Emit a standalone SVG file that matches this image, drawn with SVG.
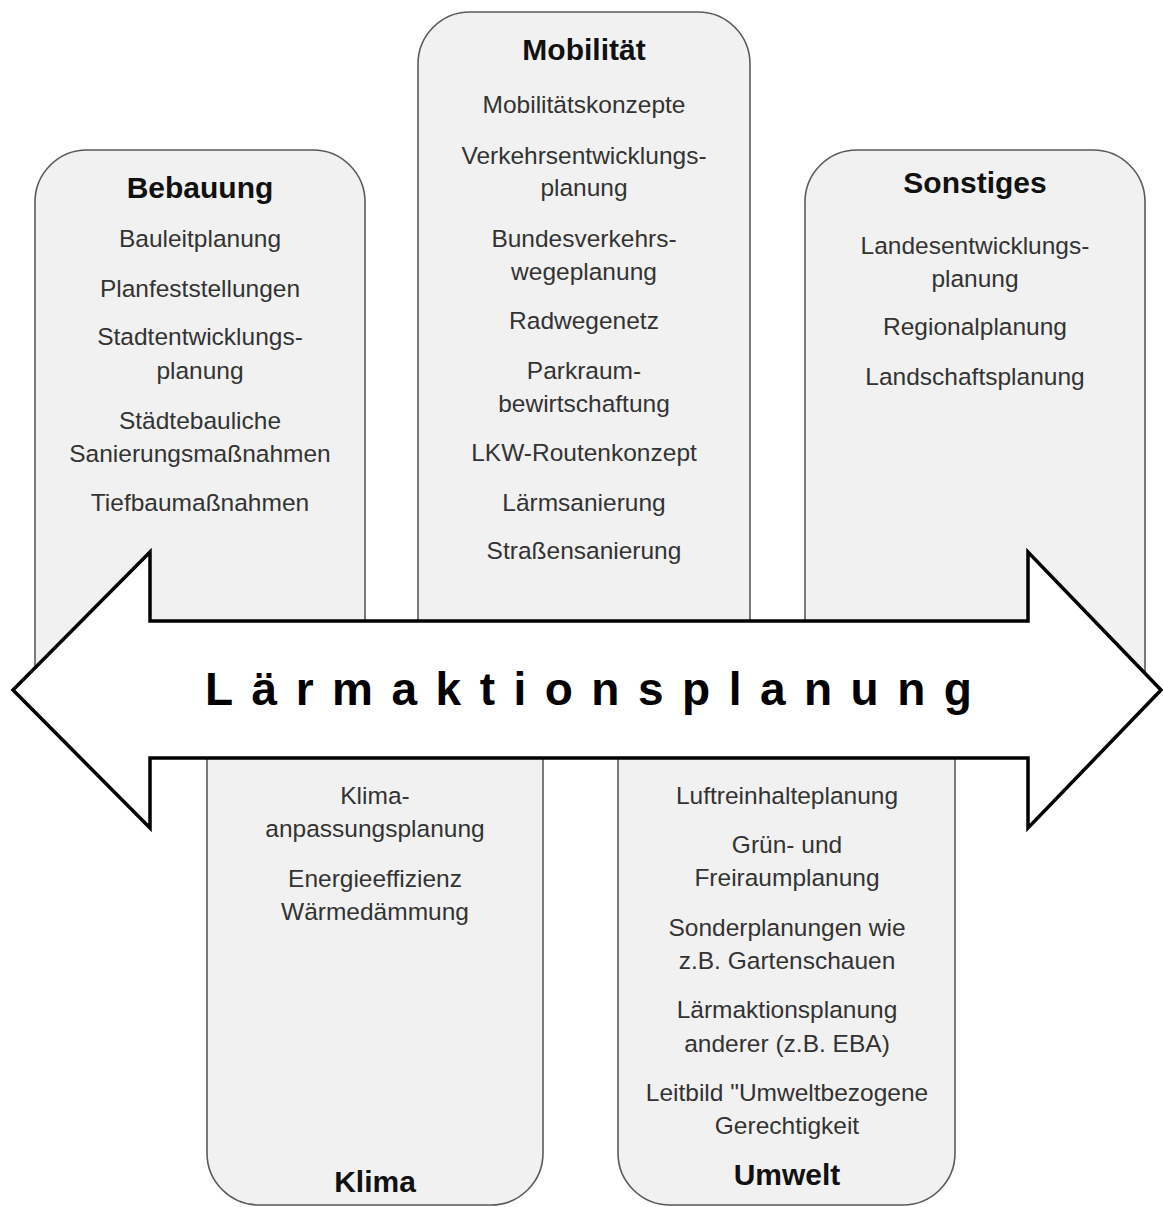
<svg xmlns="http://www.w3.org/2000/svg" width="1163" height="1207" viewBox="0 0 1163 1207">
<style>
.box{fill:#f1f1f1;stroke:#5a5a5a;stroke-width:1.6}
.hd{font-family:"Comic Sans MS","Liberation Sans",sans-serif;font-weight:bold;font-size:30px;fill:#111;text-anchor:middle}
.t{font-family:"Liberation Sans",Arial,sans-serif;font-size:24.5px;fill:#333;text-anchor:middle}
.arrow{fill:#fff;stroke:#000;stroke-width:3.5;stroke-linejoin:miter}
.title{font-family:"Liberation Sans",Arial,sans-serif;font-weight:bold;font-size:46px;letter-spacing:18.5px;fill:#000}
</style>
<rect width="1163" height="1207" fill="#fff"/>
<g id="bebauung">
<path class="box" d="M35,690 V202 A52,52 0 0 1 87,150 H313 A52,52 0 0 1 365,202 V690 Z"/>
<text class="hd" x="200" y="198">Bebauung</text>
<text class="t" x="200" y="247">Bauleitplanung</text>
<text class="t" x="200" y="297">Planfeststellungen</text>
<text class="t" x="200" y="345">Stadtentwicklungs-</text>
<text class="t" x="200" y="379">planung</text>
<text class="t" x="200" y="429">Städtebauliche</text>
<text class="t" x="200" y="462">Sanierungsmaßnahmen</text>
<text class="t" x="200" y="511">Tiefbaumaßnahmen</text>
</g>
<g id="mobilitaet">
<path class="box" d="M418,690 V64 A52,52 0 0 1 470,12 H698 A52,52 0 0 1 750,64 V690 Z"/>
<text class="hd" x="584" y="60">Mobilität</text>
<text class="t" x="584" y="113">Mobilitätskonzepte</text>
<text class="t" x="584" y="164">Verkehrsentwicklungs-</text>
<text class="t" x="584" y="196">planung</text>
<text class="t" x="584" y="247">Bundesverkehrs-</text>
<text class="t" x="584" y="280">wegeplanung</text>
<text class="t" x="584" y="329">Radwegenetz</text>
<text class="t" x="584" y="379">Parkraum-</text>
<text class="t" x="584" y="412">bewirtschaftung</text>
<text class="t" x="584" y="461">LKW-Routenkonzept</text>
<text class="t" x="584" y="511">Lärmsanierung</text>
<text class="t" x="584" y="559">Straßensanierung</text>
</g>
<g id="sonstiges">
<path class="box" d="M805,690 V202 A52,52 0 0 1 857,150 H1093 A52,52 0 0 1 1145,202 V690 Z"/>
<text class="hd" x="975" y="193">Sonstiges</text>
<text class="t" x="975" y="254">Landesentwicklungs-</text>
<text class="t" x="975" y="287">planung</text>
<text class="t" x="975" y="335">Regionalplanung</text>
<text class="t" x="975" y="385">Landschaftsplanung</text>
</g>
<g id="klima">
<path class="box" d="M207,690 V1153 A52,52 0 0 0 259,1205 H491 A52,52 0 0 0 543,1153 V690 Z"/>
<text class="hd" x="375" y="1192">Klima</text>
<text class="t" x="375" y="804">Klima-</text>
<text class="t" x="375" y="837">anpassungsplanung</text>
<text class="t" x="375" y="887">Energieeffizienz</text>
<text class="t" x="375" y="920">Wärmedämmung</text>
</g>
<g id="umwelt">
<path class="box" d="M618,690 V1153 A52,52 0 0 0 670,1205 H903 A52,52 0 0 0 955,1153 V690 Z"/>
<text class="hd" x="787" y="1185">Umwelt</text>
<text class="t" x="787" y="804">Luftreinhalteplanung</text>
<text class="t" x="787" y="853">Grün- und</text>
<text class="t" x="787" y="886">Freiraumplanung</text>
<text class="t" x="787" y="936">Sonderplanungen wie</text>
<text class="t" x="787" y="969">z.B. Gartenschauen</text>
<text class="t" x="787" y="1018">Lärmaktionsplanung</text>
<text class="t" x="787" y="1052">anderer (z.B. EBA)</text>
<text class="t" x="787" y="1101">Leitbild "Umweltbezogene</text>
<text class="t" x="787" y="1134">Gerechtigkeit</text>
</g>
<g id="laermaktionsplanung">
<path class="arrow" d="M13,690 L150,552 L150,621 L1028,621 L1028,552 L1161,690 L1028,828 L1028,758 L150,758 L150,828 Z"/>
<text class="title" x="205" y="705">Lärmaktionsplanung</text>
</g>
</svg>
